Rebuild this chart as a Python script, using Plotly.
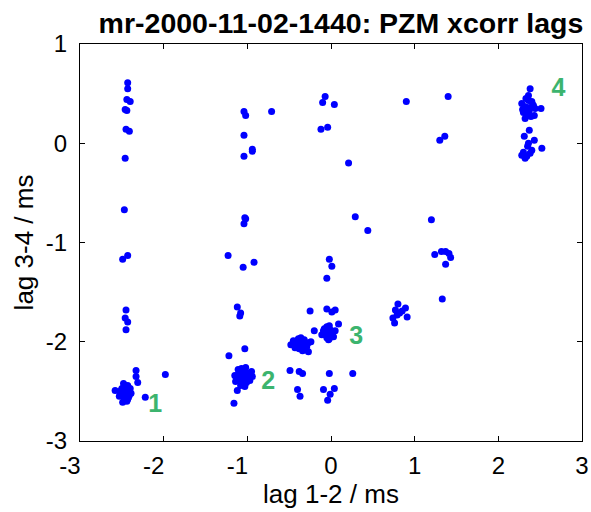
import plotly.graph_objects as go

# ---- data: (lag 1-2, lag 3-4) in ms ----
c1_x = [-2.46,-2.44,-2.48,-2.50,-2.42,-2.45,-2.47,-2.52,-2.40,-2.43,-2.49,-2.46,-2.51,-2.44,-2.41,
        -2.47,-2.45,-2.53,-2.39,-2.48,-2.43,-2.46,-2.50,-2.44,-2.42,-2.47,-2.45,-2.49,-2.41,-2.46,
        -2.58,-2.33,-2.33,-2.31,-2.22,-1.98]
c1_y = [-2.51,-2.49,-2.53,-2.47,-2.50,-2.56,-2.44,-2.52,-2.47,-2.58,-2.55,-2.45,-2.49,-2.60,-2.54,
        -2.48,-2.52,-2.55,-2.52,-2.42,-2.44,-2.57,-2.50,-2.53,-2.56,-2.59,-2.46,-2.61,-2.50,-2.54,
        -2.49,-2.29,-2.35,-2.41,-2.56,-2.33]

c2_x = [-1.06,-1.02,-1.10,-1.08,-0.98,-1.04,-1.12,-1.00,-1.07,-0.95,-1.14,-1.03,-1.09,-0.97,-1.05,
        -1.11,-1.01,-1.06,-0.94,-1.13,-1.08,-1.02,-0.99,-1.05,-1.10,-1.04,-0.96,-1.07,-1.15,-1.03,
        -1.12,-1.16,-1.03,-1.22]
c2_y = [-2.35,-2.31,-2.38,-2.29,-2.33,-2.42,-2.34,-2.37,-2.27,-2.30,-2.40,-2.45,-2.32,-2.39,-2.36,
        -2.28,-2.41,-2.30,-2.35,-2.37,-2.44,-2.26,-2.34,-2.39,-2.32,-2.43,-2.31,-2.36,-2.34,-2.38,
        -2.49,-2.62,-2.07,-2.14]

c3a_x = [-0.04,-0.01,-0.07,-0.03,0.02,-0.09,-0.05,0.00,-0.02,-0.06,0.03,-0.08,-0.03,0.01,-0.05,
         -0.11,0.05,-0.02,0.09,-0.20]
c3a_y = [-1.91,-1.88,-1.93,-1.86,-1.90,-1.89,-1.96,-1.94,-1.84,-1.92,-1.95,-1.87,-1.98,-1.92,-1.85,
         -1.93,-1.89,-1.97,-1.82,-1.89]

c3b_x = [-0.35,-0.40,-0.30,-0.45,-0.37,-0.32,-0.42,-0.27,-0.38,-0.33,-0.43,-0.29,-0.36,-0.41,-0.31,
         -0.48,-0.27,-0.24,-0.34,-0.39]
c3b_y = [-2.02,-2.00,-2.04,-1.99,-2.05,-1.98,-2.03,-2.01,-2.07,-2.00,-2.06,-2.05,-1.96,-2.02,-2.08,
         -2.03,-2.10,-2.00,-2.09,-1.97]

c_mid_x = [0.80,0.89,0.74,0.76,0.91,0.77,0.82,0.79,0.85]
c_mid_y = [-1.62,-1.66,-1.76,-1.81,-1.75,-1.68,-1.71,-1.73,-1.69]

c4a_x = [2.38,2.36,2.33,2.40,2.28,2.31,2.35,2.42,2.37,2.30,2.44,2.34,2.39,2.32,2.51,2.43,2.36,2.29,2.41,2.35]
c4a_y = [0.55,0.48,0.45,0.42,0.40,0.37,0.36,0.38,0.33,0.31,0.35,0.29,0.27,0.25,0.35,0.28,0.43,0.34,0.39,0.32]

c4b_x = [2.37,2.31,2.43,2.52,2.28,2.32,2.38,2.35,2.40,2.30,2.36,2.34]
c4b_y = [0.13,0.07,0.03,-0.05,-0.12,-0.15,-0.10,-0.03,-0.07,-0.09,0.00,-0.13]

scatter_x = [-2.43,-2.43,-2.44,-2.40,-2.46,-2.44,-2.45,-2.41,-2.46,-2.47,-2.49,-2.43,-2.45,-2.46,-2.43,-2.45,
             -1.04,-1.02,-1.04,-0.94,-0.94,-1.04,-1.03,-1.02,-1.04,-1.23,-1.05,-0.92,-1.12,-1.08,-1.09,
             -0.71,-0.07,-0.10,0.04,-0.12,-0.04,0.21,0.29,0.44,0.90,1.40,1.36,1.30,1.20,
             -0.02,0.01,-0.05,-0.25,-0.05,0.01,0.05,-0.49,-0.38,-0.34,-0.02,0.26,-0.40,-0.37,-0.09,0.04,-0.01,-0.04,
             1.24,1.32,1.37,1.41,1.43,1.37,1.33]
scatter_y = [0.61,0.55,0.44,0.42,0.34,0.33,0.14,0.12,-0.15,-0.67,-1.17,-1.13,-1.68,-1.76,-1.80,-1.88,
             0.32,0.28,0.08,-0.06,-0.08,-0.13,-0.75,-0.76,-0.81,-1.13,-1.25,-1.20,-1.65,-1.71,-1.74,
             0.32,0.47,0.41,0.39,0.14,0.16,-0.20,-0.74,-0.88,0.42,0.47,0.07,0.03,-0.77,
             -1.17,-1.24,-1.36,-1.69,-1.67,-1.70,-1.68,-2.29,-2.30,-2.32,-2.32,-2.32,-2.48,-2.55,-2.48,-2.47,-2.53,-2.59,
             -1.12,-1.09,-1.09,-1.11,-1.15,-1.22,-1.57]

label_text = ["1", "2", "3", "4"]
label_x = [-2.10, -0.75, 0.30, 2.72]
label_y = [-2.64, -2.41, -1.96, 0.54]

x_ticks = [-3, -2, -1, 0, 1, 2, 3]
x_ticktext = ["-3\u2007\u00a0", "-2\u2007\u00a0", "-1\u2007\u00a0", "0", "1", "2", "3"]
y_ticks = [-3, -2, -1, 0, 1]
y_ticktext = ["-3", "-2", "-1", "0", "1"]

lag12 = c1_x + c2_x + c3a_x + c3b_x + c_mid_x + c4a_x + c4b_x + scatter_x
lag34 = c1_y + c2_y + c3a_y + c3b_y + c_mid_y + c4a_y + c4b_y + scatter_y

FONT = "Liberation Sans, Arial, sans-serif"

fig = go.Figure()
fig.add_trace(go.Scatter(x=lag12, y=lag34, mode="markers",
                         marker=dict(color="#0000ff", size=7, line=dict(width=0)),
                         showlegend=False, hoverinfo="skip"))
fig.add_trace(go.Scatter(x=label_x, y=label_y, mode="text", text=label_text,
                         textfont=dict(family=FONT, size=25, color="#3cb46e", weight="bold"),
                         showlegend=False, hoverinfo="skip"))

axis_common = dict(showgrid=False, zeroline=False, showline=True, linecolor="black", linewidth=1.4,
                   mirror="ticks", ticks="inside", ticklen=5, tickwidth=1.2, tickcolor="black",
                   tickfont=dict(family=FONT, size=24, color="black"), automargin=False)

fig.update_layout(
    width=591, height=512,
    margin=dict(l=80, r=9, t=44, b=71),
    paper_bgcolor="white", plot_bgcolor="white",
    title=dict(text="<b>mr-2000-11-02-1440: PZM xcorr lags</b>", x=0.577, xanchor="center",
               y=0.955, yanchor="middle", font=dict(family=FONT, size=28.5, color="black")),
    xaxis=dict(range=[-3, 3], tickvals=x_ticks, ticktext=x_ticktext, ticklabelstandoff=3,
               title=dict(text="lag 1-2 / ms", font=dict(family=FONT, size=26, color="black"), standoff=1),
               **axis_common),
    yaxis=dict(range=[-3, 1], tickvals=y_ticks, ticktext=y_ticktext, ticklabelstandoff=7,
               title=dict(text="lag 3-4 / ms", font=dict(family=FONT, size=26, color="black"), standoff=4),
               **axis_common),
)

fig.write_html("out.html")
